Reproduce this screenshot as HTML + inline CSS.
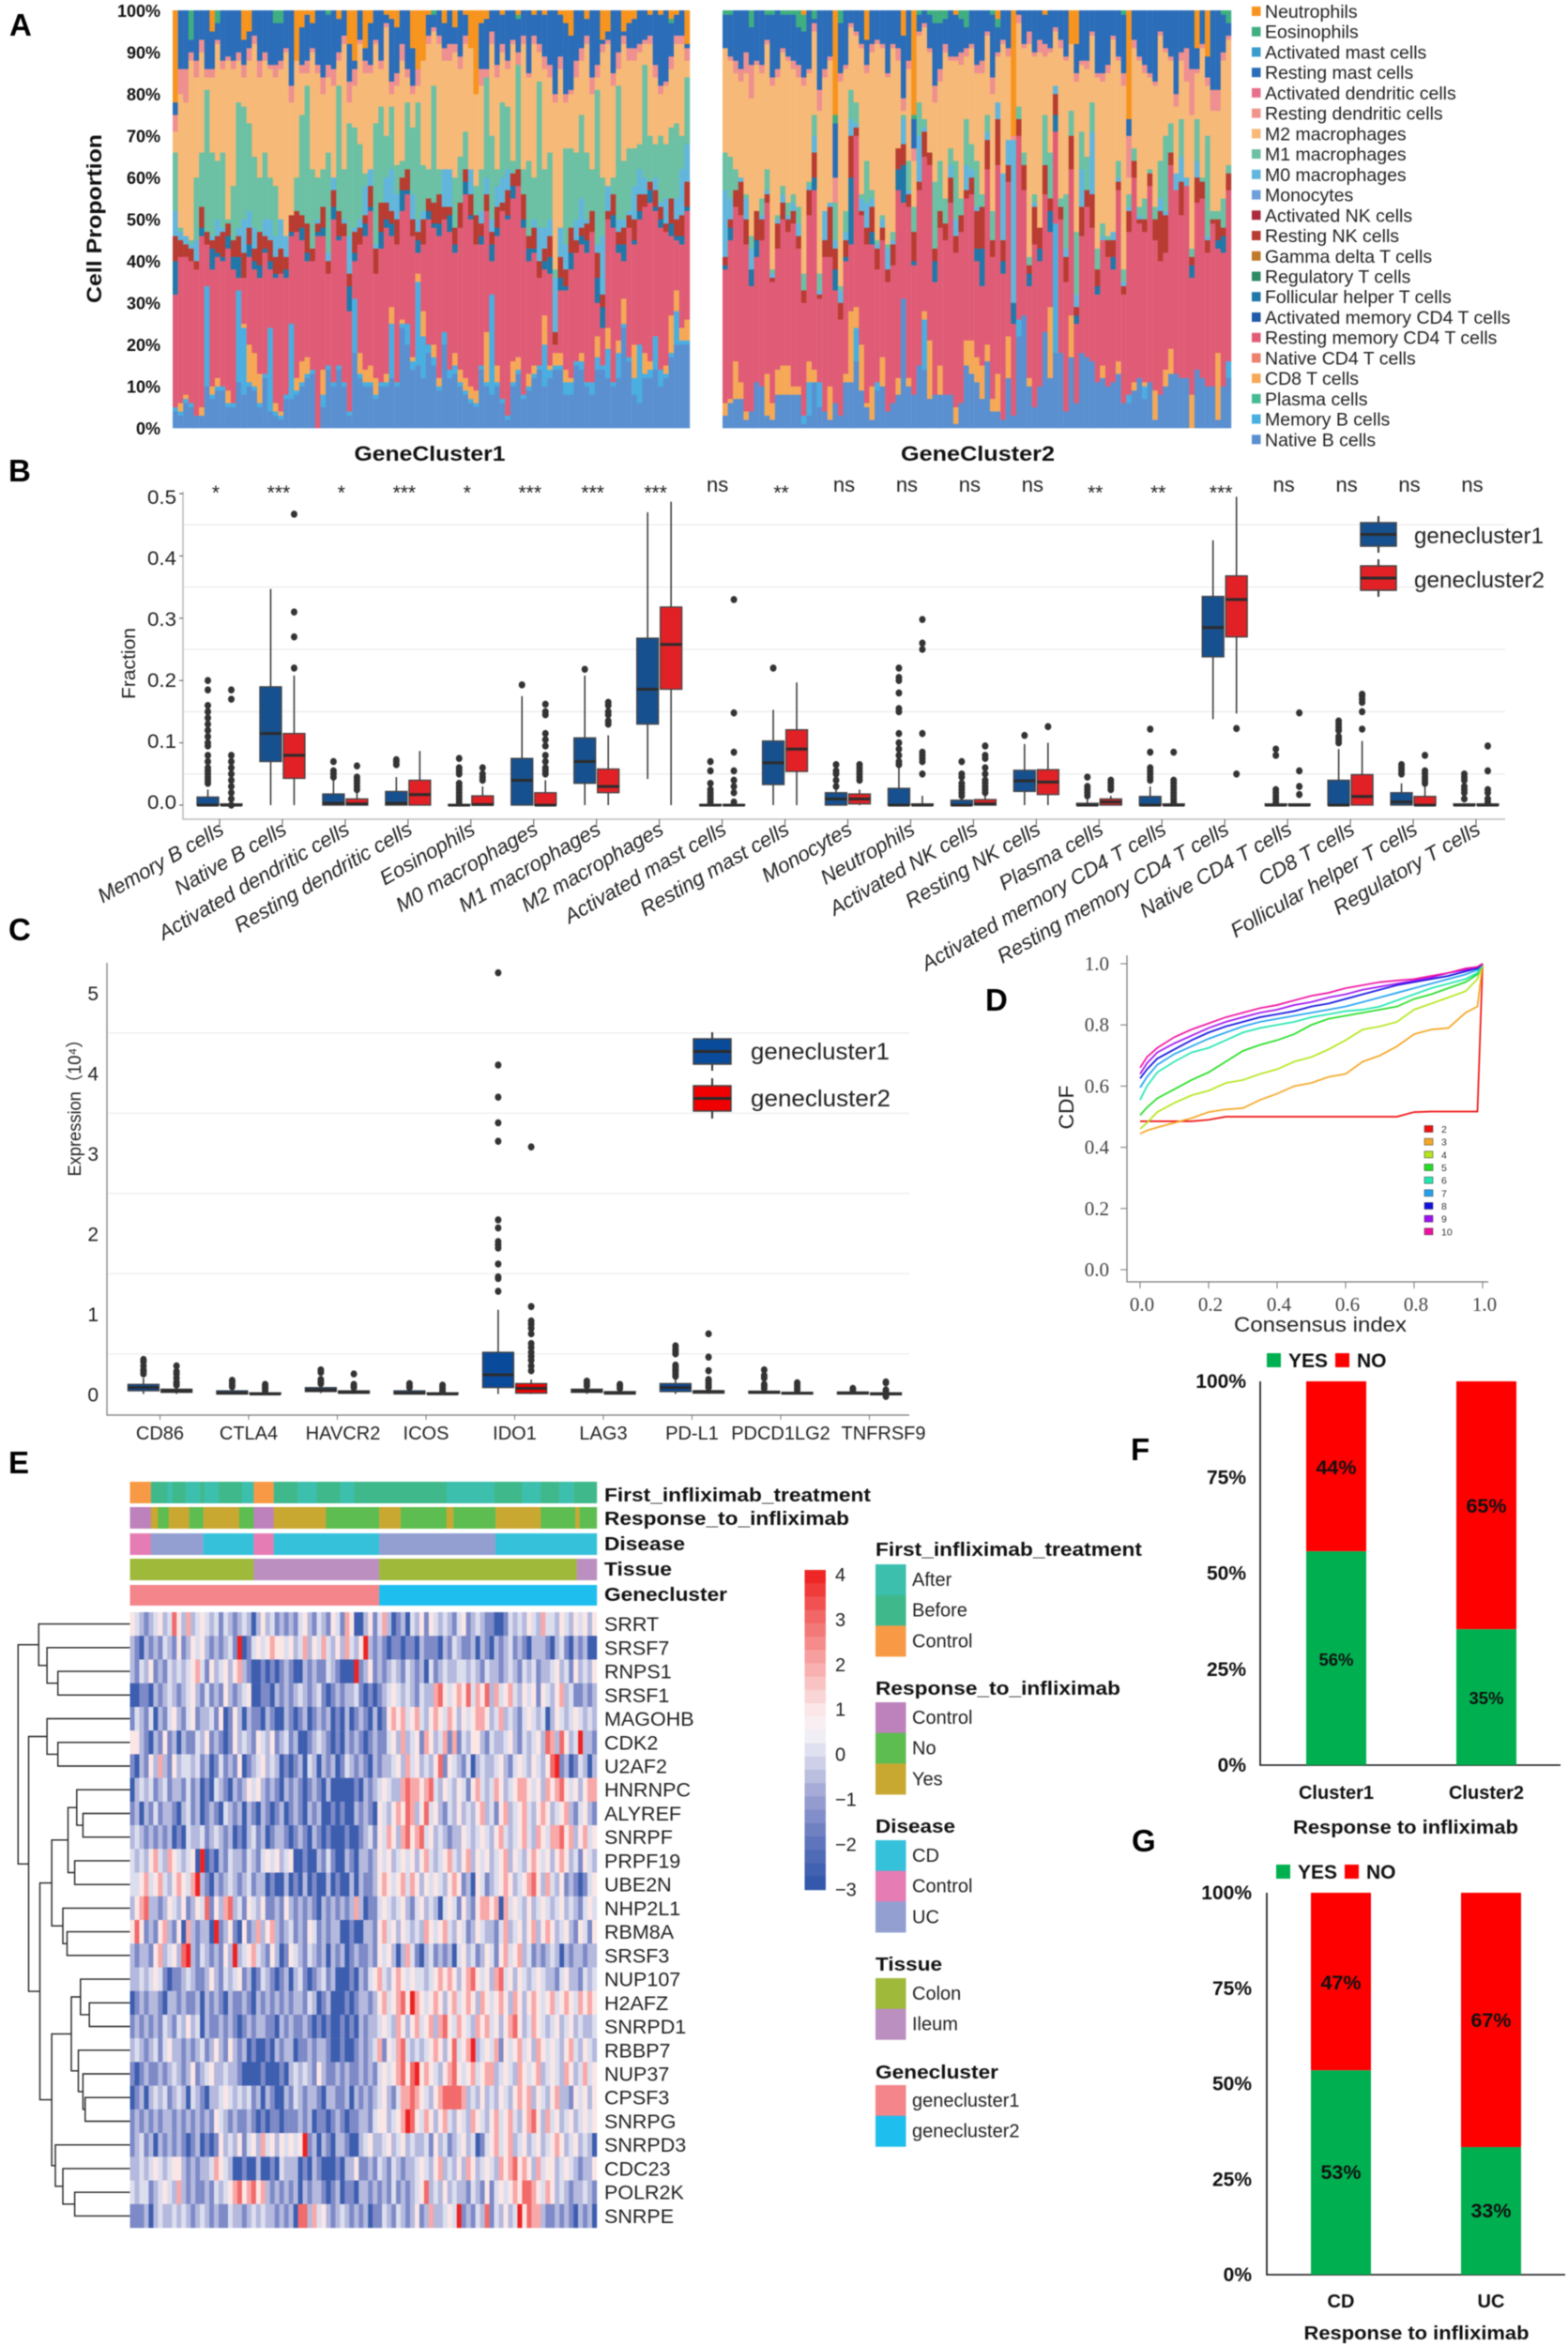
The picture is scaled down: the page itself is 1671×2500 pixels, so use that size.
<!DOCTYPE html>
<html lang="en">
<head>
<meta charset="utf-8">
<title>Immune infiltration and gene cluster figure</title>
<style>
html,body{margin:0;padding:0;background:#fff;width:1671px;height:2500px;overflow:hidden}
svg{display:block;font-family:"Liberation Sans","Noto Sans CJK SC",sans-serif;filter:blur(.45px)}
</style>
</head>
<body>
<svg id="figure" xmlns="http://www.w3.org/2000/svg" width="1671" height="2500" viewBox="0 0 1671 2500">
  <rect x="0" y="0" width="1671" height="2500" fill="#fff"/>
  <g id="panelA"></g>
  <g id="panelB"></g>
  <g id="panelC"></g>
  <g id="panelD"></g>
  <g id="panelE"></g>
  <g id="panelF"></g>
  <g id="panelG"></g>
  <g font-weight="bold" font-size="33" fill="#000">
    <text x="10" y="38">A</text>
    <text x="9" y="513">B</text>
    <text x="9" y="1002">C</text>
    <text x="1050" y="1077">D</text>
    <text x="9" y="1570">E</text>
    <text x="1205" y="1556">F</text>
    <text x="1206" y="1973">G</text>
  </g>
</svg>
<script>
/* ---------- Panel A data (percent) ---------- */
const aTicks = [0,10,20,30,40,50,60,70,80,90,100];
const aLegendNames = ["Neutrophils","Eosinophils","Activated mast cells","Resting mast cells","Activated dendritic cells","Resting dendritic cells","M2 macrophages","M1 macrophages","M0 macrophages","Monocytes","Activated NK cells","Resting NK cells","Gamma delta T cells","Regulatory T cells","Follicular helper T cells","Activated memory CD4 T cells","Resting memory CD4 T cells","Native CD4 T cells","CD8 T cells","Plasma cells","Memory B cells","Native B cells"];
const aLegendColors = ["#f7941e","#3fae80","#3a9ccb","#2b6db8","#e6708c","#f0958c","#f6b977","#6cc0a3","#62b6dc","#6f9fd8","#ab2a3e","#b83c32","#c07a2a","#2e8b63","#2178a8","#2258a8","#e05c76","#ee8070","#f5a957","#46bb91","#4aaee0","#5a90d0"];

const c1NativeB = [4,3,6,5,3,3,10,7,9,9,
5,5,11,8,10,9,5,12,4,3,
2,7,7,8,10,12,13,0,5,14,
10,14,10,3,18,12,10,10,7,10,
10,12,10,24,20,14,15,12,18,15,
9,20,12,13,10,8,6,5,14,10,
8,10,6,2,10,13,7,9,12,14,
10,12,14,14,8,8,15,14,10,8,
14,14,12,10,12,24,16,8,6,12,
12,14,10,12,17,20,20,20];
const c1MemoryB = [1,1,1,1,0,0,24,1,1,1,
1,1,22,16,1,1,1,1,20,1,
1,1,18,1,1,1,1,0,3,1,
1,1,1,1,13,1,1,1,1,1,
1,13,1,1,5,2,20,10,2,2,
1,3,2,2,1,1,1,1,1,1,
24,1,1,1,1,1,1,1,1,1,
10,2,1,1,3,3,1,2,1,3,
3,1,7,1,6,1,1,4,14,1,
2,8,4,1,1,8,1,1];
const c1Cd8 = [0,2,1,0,0,2,0,2,2,0,
3,0,0,1,9,8,7,0,0,2,
1,0,0,3,5,4,0,0,6,0,
0,0,0,0,0,5,3,4,4,0,
2,4,0,1,0,1,2,6,0,3,
2,0,0,3,3,3,3,3,0,12,
0,4,0,0,5,3,0,3,2,0,
7,1,3,3,3,1,0,2,0,0,
5,0,5,0,3,6,0,8,0,5,
2,0,0,2,9,5,3,5];
const c1RestCd4Top = [32,41,41,40,38,46,44,38,41,40,
43,38,36,36,41,38,36,42,38,36,
37,36,46,47,45,40,40,46,46,37,
50,45,46,28,40,44,46,52,37,43,
48,46,44,52,56,46,42,44,50,48,
46,50,47,42,48,56,50,44,44,52,
40,46,52,50,55,58,48,40,42,36,
38,37,20,33,33,38,42,44,42,47,
30,24,50,48,42,40,48,44,50,53,
54,52,48,47,46,45,44,52];
const c1TCells = [8,0,0,0,0,2,0,5,1,1,
3,3,5,0,3,2,3,1,2,1,
0,2,1,0,3,2,0,1,2,0,
3,1,0,6,2,0,3,1,0,4,
2,3,0,5,1,0,3,0,2,1,
3,0,4,2,0,3,1,0,2,0,
4,2,0,1,3,0,2,3,1,0,
2,4,0,3,1,4,0,2,3,0,
6,5,0,3,2,4,0,1,2,0,
3,1,2,0,3,1,2,1];
const c1RestNK = [6,4,3,3,2,5,3,2,4,6,
3,4,5,6,4,3,8,3,5,4,
6,3,4,5,3,7,3,2,5,3,
4,6,3,3,5,4,2,5,6,7,
4,3,6,3,5,4,2,6,3,5,
7,3,2,4,6,3,5,7,3,4,
3,5,2,6,3,4,6,3,5,4,
3,5,3,5,4,6,3,2,4,5,
6,3,2,5,3,4,3,5,4,3,
2,4,3,2,6,4,5,6];
const c1M0Top = [52,47,46,44,45,50,46,46,50,48,
45,44,48,50,52,48,42,50,50,46,
50,46,50,50,48,44,42,50,50,42,
60,48,50,46,48,50,58,62,44,48,
60,62,56,54,62,56,50,52,54,52,
52,62,62,48,52,62,62,48,52,60,
50,58,60,62,60,62,56,46,50,48,
48,50,36,48,44,46,50,55,50,50,
44,46,58,54,50,50,52,58,62,60,
58,60,54,55,50,55,62,68];
const c1M1Top = [66,48,46,45,60,66,81,66,64,66,
50,58,78,77,73,65,60,66,60,58,
48,44,46,60,75,82,62,60,62,66,
50,82,62,73,72,68,61,48,73,77,
70,77,63,64,78,72,78,63,62,82,
62,58,59,60,65,71,62,58,62,84,
70,62,78,77,64,87,62,64,60,83,
62,66,38,36,67,67,66,75,66,62,
81,60,58,60,82,64,67,67,68,87,
70,68,70,68,72,73,70,84];
const c1M2Top = [71,80,78,88,84,90,84,84,92,86,
88,86,88,84,88,92,84,88,86,84,
86,90,78,88,85,85,90,85,80,84,
82,88,92,78,82,92,85,85,92,86,
96,80,82,88,84,80,82,90,92,95,
92,88,88,90,86,92,96,84,82,84,
92,84,90,86,92,86,92,84,92,90,
86,84,78,86,78,80,84,88,92,80,
84,90,92,82,86,92,88,88,90,92,
92,84,80,82,86,92,92,88];
const c1Dendritic = [4,6,8,2,4,3,2,2,1,2,
1,2,2,3,3,2,4,2,1,3,
2,1,4,2,2,3,1,2,4,3,
4,2,2,5,4,1,3,2,1,2,
1,3,3,4,2,2,5,3,2,1,
2,3,4,2,3,2,1,3,4,2,
3,3,2,2,1,3,2,1,2,2,
3,3,2,3,2,1,4,3,2,4,
3,2,1,3,4,2,3,3,2,1,
2,3,2,1,3,2,2,3];
const c1Eosinophils = [0,0,0,7,0,0,0,0,3,0,
0,0,0,0,0,0,0,0,0,3,
3,0,0,0,0,0,0,0,0,1,
0,0,0,0,0,0,0,0,0,0,
0,0,0,0,0,0,0,0,0,1,
0,0,0,0,0,0,0,0,0,0,
0,0,0,0,0,1,0,0,0,0,
0,0,0,0,0,0,0,0,0,0,
0,0,0,0,0,0,0,0,0,0,
0,0,0,0,1,0,0,0];
const c1Neutrophils = [22,0,0,0,0,0,0,5,0,0,
0,0,0,7,5,0,0,0,0,0,
0,0,0,12,4,1,3,0,0,0,
0,2,0,8,12,0,9,3,0,0,
1,2,4,0,0,9,14,12,1,0,
0,3,0,4,0,1,9,20,3,2,
0,0,1,0,0,1,0,0,1,0,
1,0,0,1,3,6,0,0,2,0,
0,7,5,0,0,5,3,2,0,0,
1,0,1,0,2,1,0,8];

const c2NativeB = [3,6,7,7,2,4,11,10,3,2,
8,8,8,8,8,1,3,11,5,4,
2,6,3,11,11,16,9,5,2,9,
10,4,6,8,31,10,8,15,14,7,
8,8,8,8,1,6,15,13,11,7,
16,4,4,2,12,3,22,27,10,5,
10,23,12,18,18,4,17,6,18,17,
16,11,12,10,11,13,6,6,9,12,
7,11,2,8,10,13,13,12,12,0,
14,12,10,10,2,10,12];
const c2MemoryB = [0,0,0,0,0,0,0,0,0,0,
0,0,0,0,0,2,8,0,6,0,
0,0,0,0,0,8,0,0,0,2,
0,0,0,0,0,0,0,0,12,0,
0,0,0,0,0,0,0,0,0,0,
0,0,0,0,0,0,4,0,0,0,
0,0,0,31,0,0,0,0,0,0,
0,0,0,0,0,0,0,2,0,0,
3,0,0,0,0,0,0,0,0,0,
0,0,0,0,0,0,4];
const c2Cd8 = [3,1,9,4,2,0,0,0,10,4,
6,7,7,2,2,0,5,3,0,0,
8,0,0,2,17,5,11,1,8,0,
7,0,0,4,0,2,0,0,2,14,
0,7,0,0,4,0,6,8,6,8,
4,3,9,0,10,0,0,0,2,0,
0,0,17,0,0,0,10,0,0,0,
0,0,3,0,0,3,0,0,2,0,
1,0,7,0,4,6,0,0,0,8,
0,0,0,0,16,0,0];
const c2RestCd4Top = [38,45,53,51,44,34,41,45,54,35,
43,50,47,49,43,30,51,57,31,41,
41,33,26,40,44,70,51,44,44,38,
45,35,39,57,54,53,39,57,65,63,
35,48,45,54,42,47,55,56,40,34,
62,41,63,37,59,25,70,57,34,44,
40,56,47,71,50,35,62,25,46,53,
48,32,45,41,38,57,32,47,60,49,
47,58,45,40,42,63,57,51,58,36,
54,55,42,49,43,42,57];
const c2TCells = [1,3,0,0,0,4,4,0,0,0,
0,0,0,0,0,0,0,3,0,0,
0,5,0,1,16,0,0,0,3,0,
0,0,0,5,9,0,1,0,0,0,
5,0,0,0,0,0,0,0,3,9,
0,0,0,3,0,5,0,0,3,0,
3,0,5,4,0,0,0,2,0,0,
0,2,0,0,3,0,0,0,0,0,
0,0,0,0,0,0,0,0,0,3,
0,0,0,0,2,4,0];
const c2RestNK = [2,2,4,8,6,0,7,5,2,1,
6,4,3,3,3,3,6,6,1,4,
12,5,4,4,10,2,1,4,6,5,
3,3,5,5,5,3,7,2,6,3,
3,4,4,6,4,4,2,4,9,10,
7,4,11,5,4,0,4,6,2,9,
5,7,3,5,3,6,8,2,7,4,
8,4,0,4,4,2,2,5,4,1,
3,3,5,12,9,3,0,8,0,2,
6,4,3,1,5,2,4];
const c2M0Top = [57,55,57,60,55,43,48,51,57,37,
50,56,51,54,49,33,58,70,33,52,
54,45,33,47,74,73,55,54,55,44,
50,43,45,67,74,57,47,70,72,66,
43,52,49,63,50,51,63,62,53,53,
71,44,78,61,69,69,74,63,39,54,
48,63,55,82,52,43,70,32,62,57,
71,36,46,45,47,60,35,53,62,51,
49,58,50,55,52,66,61,65,60,41,
64,59,46,50,50,48,61];
const c2M1Top = [66,65,62,60,56,46,52,55,62,38,
51,58,54,56,53,37,59,75,37,52,
54,54,34,52,81,78,56,64,57,45,
51,44,47,67,75,64,53,78,74,66,
59,64,55,67,64,55,74,68,64,56,
75,52,78,61,69,69,77,66,41,56,
48,75,66,82,55,56,76,47,71,65,
78,43,49,46,47,64,38,56,67,53,
55,62,53,64,70,73,61,74,60,43,
74,60,70,52,52,55,63];
const c2M2Top = [91,88,85,83,85,79,87,85,92,82,
84,90,88,86,84,82,85,95,76,84,
88,54,83,86,96,94,91,85,90,92,
91,84,91,88,76,86,64,94,96,90,
78,83,90,88,88,87,89,91,85,85,
94,80,89,92,89,69,97,91,92,89,
90,89,90,95,91,88,95,83,87,86,
94,84,83,85,93,88,82,60,91,88,
85,84,82,94,90,88,77,88,83,75,
85,91,82,76,76,88,93];
const c2Dendritic = [0,1,3,3,5,8,1,2,1,2,
2,1,1,2,3,2,1,2,5,2,
1,6,2,1,1,1,1,2,2,1,
1,1,1,3,3,2,3,1,1,1,
4,3,2,1,1,3,2,1,2,3,
1,4,1,1,2,1,2,1,3,1,
3,3,1,1,2,1,1,2,1,2,
1,1,2,2,1,1,3,10,2,1,
2,1,1,1,1,1,3,2,8,11,
1,1,2,5,5,2,1];
const c2Eosinophils = [1,1,0,0,0,4,0,0,1,1,
0,1,1,1,4,4,0,2,0,0,
0,2,3,0,0,0,0,0,0,0,
0,0,0,0,0,0,1,1,0,1,
3,3,2,0,0,2,4,0,0,0,
0,1,2,0,0,0,0,0,0,0,
0,0,0,0,0,0,0,0,0,0,
0,0,0,0,0,0,1,0,0,0,
0,0,0,0,0,0,0,0,0,0,
0,0,0,0,0,1,3];
const c2Neutrophils = [0,0,0,0,0,0,0,0,0,0,
0,0,0,0,0,1,0,0,0,0,
0,25,0,0,0,0,0,7,0,0,
0,0,0,0,6,0,25,0,0,0,
0,0,0,0,1,0,0,0,0,0,
0,0,2,0,0,30,0,0,0,0,
0,1,0,0,0,0,8,8,0,0,
0,0,0,0,0,0,0,26,0,0,
0,0,0,0,0,0,0,0,0,0,
9,0,11,0,0,0,0];

/* ---------- Panel B data (fraction) [low whisker, q1, median, q3, high whisker] ---------- */
const bCategories = ["Memory B cells","Native B cells","Activated dendritic cells","Resting dendritic cells","Eosinophils","M0 macrophages","M1 macrophages","M2 macrophages","Activated mast cells","Resting mast cells","Monocytes","Neutrophils","Activated NK cells","Resting NK cells","Plasma cells","Activated memory CD4 T cells","Resting memory CD4 T cells","Native CD4 T cells","CD8 T cells","Follicular helper T cells","Regulatory T cells"];
const bTicks = [0,0.1,0.2,0.3,0.4,0.5];
const bGrid = [0.05,0.15,0.25,0.35,0.45];
const bSignificance = ["*","***","*","***","*","***","***","***","ns","**","ns","ns","ns","ns","**","**","***","ns","ns","ns","ns"];
const bCluster1Stats = [[0,0,0,0.013,0.025],[0,0.07,0.115,0.19,0.347],[0,0,0.003,0.018,0.04],[0,0,0.003,0.022,0.045],[0,0,0,0.001,0.002],[0,0,0.04,0.075,0.175],[0,0.035,0.07,0.108,0.208],[0.042,0.13,0.186,0.268,0.47],[0,0,0,0.001,0.002],[0,0.033,0.068,0.103,0.153],[0,0,0.01,0.02,0.025],[0,0,0,0.027,0.06],[0,0,0,0.008,0.01],[0,0.022,0.039,0.056,0.098],[0,0,0,0.003,0.01],[0,0,0,0.014,0.03],[0.138,0.238,0.285,0.335,0.425],[0,0,0,0.002,0.003],[0,0,0,0.04,0.09],[0,0,0.005,0.02,0.035],[0,0,0,0.002,0.003]];
const bCluster2Stats = [[0,0,0,0.002,0.003],[0,0.043,0.08,0.115,0.208],[0,0,0.002,0.01,0.02],[0,0,0.017,0.04,0.087],[0,0,0.001,0.015,0.03],[0,0,0,0.02,0.04],[0,0.02,0.03,0.058,0.112],[0,0.186,0.258,0.318,0.487],[0,0,0,0.001,0.002],[0,0.054,0.09,0.121,0.197],[0,0.002,0.01,0.018,0.025],[0,0,0,0.002,0.015],[0,0,0.002,0.009,0.015],[0,0.017,0.037,0.057,0.1],[0,0,0.005,0.01,0.015],[0,0,0,0.002,0.003],[0.147,0.27,0.33,0.368,0.495],[0,0,0,0.002,0.003],[0,0,0.014,0.049,0.103],[0,0,0,0.014,0.03],[0,0,0,0.002,0.003]];
const bCluster1Outliers = [[0.035,0.04,0.045,0.05,0.055,0.06,0.07,0.08,0.095,0.1,0.11,0.12,0.13,0.14,0.15,0.16,0.185,0.2],[],[0.045,0.05,0.055,0.07],[0.065,0.07,0.073],[0.005,0.01,0.015,0.02,0.025,0.03,0.035,0.05,0.055,0.06,0.075],[0.193],[0.218],[],[0.005,0.01,0.015,0.02,0.025,0.035,0.055,0.07],[0.22],[0.03,0.04,0.05,0.055,0.065],[0.065,0.07,0.08,0.09,0.1,0.115,0.15,0.155,0.18,0.2,0.205,0.22],[0.015,0.02,0.025,0.03,0.035,0.045,0.05,0.07],[0.112],[0.015,0.02,0.025,0.03,0.045],[0.04,0.045,0.05,0.055,0.06,0.085,0.122],[],[0.005,0.01,0.015,0.02,0.025,0.08,0.09],[0.1,0.105,0.11,0.12,0.125,0.13,0.135],[0.05,0.055,0.06,0.065],[0.01,0.02,0.025,0.03,0.04,0.045,0.05]];
const bCluster2Outliers = [[0,0.01,0.02,0.03,0.04,0.05,0.06,0.07,0.08,0.17,0.185],[0.22,0.27,0.31,0.467],[0.025,0.03,0.035,0.04,0.045,0.063],[],[0.04,0.045,0.05,0.06],[0.05,0.055,0.06,0.07,0.08,0.095,0.105,0.115,0.145,0.15,0.162],[0.13,0.135,0.145,0.15,0.16,0.165],[],[0.005,0.02,0.03,0.04,0.055,0.085,0.148,0.33],[],[0.04,0.045,0.05,0.055,0.06,0.065],[0.05,0.07,0.075,0.08,0.085,0.115,0.25,0.26,0.298],[0.02,0.025,0.03,0.035,0.04,0.05,0.06,0.075,0.08,0.095],[0.126],[0.025,0.03,0.035,0.04],[0.005,0.01,0.015,0.02,0.025,0.03,0.035,0.04,0.085],[0.05,0.123],[0.017,0.03,0.055,0.148],[0.122,0.15,0.165,0.17,0.175,0.178],[0.035,0.04,0.045,0.05,0.055,0.08],[0.005,0.01,0.02,0.025,0.055,0.095]];

/* ---------- Panel C data ---------- */
const cCategories = ["CD86","CTLA4","HAVCR2","ICOS","IDO1","LAG3","PD-L1","PDCD1LG2","TNFRSF9"];
const cTicks = [0,1,2,3,4,5];
const cGrid = [0.5,1.5,2.5,3.5,4.5];
const cCluster1Stats = [[0,0.04,0.08,0.12,0.2],[0,0,0.01,0.04,0.07],[0.01,0.03,0.05,0.08,0.11],[0,0,0.01,0.04,0.06],[0,0.08,0.24,0.52,1.05],[0,0.02,0.04,0.06,0.08],[0,0.03,0.08,0.13,0.2],[0,0.01,0.02,0.035,0.05],[0,0,0.01,0.025,0.03]];
const cCluster2Stats = [[0,0.02,0.04,0.06,0.09],[0,0,0,0.015,0.03],[0,0.01,0.02,0.04,0.06],[0,0,0,0.015,0.02],[0,0.01,0.07,0.13,0.18],[0,0,0.01,0.03,0.05],[0,0.01,0.03,0.04,0.06],[0,0,0.01,0.02,0.03],[-0.01,-0.01,0,0.015,0.02]];
const cCluster1Outliers = [[0.25,0.28,0.3,0.35,0.4,0.43],[0.09,0.12,0.15,0.17],[0.13,0.15,0.18,0.27,0.3],[0.08,0.1,0.13],[1.28,1.44,1.46,1.62,1.82,1.86,1.9,2.07,2.17,3.15,3.38,3.7,4.1,5.25],[0.1,0.13,0.16],[0.22,0.25,0.28,0.3,0.33,0.36,0.5,0.53,0.56,0.6],[0.07,0.1,0.12,0.2,0.23,0.3],[0.05,0.07]];
const cCluster2Outliers = [[0.11,0.13,0.15,0.2,0.25,0.28,0.35],[0.04,0.06,0.08,0.1,0.12],[0.08,0.1,0.12,0.25],[0.03,0.05,0.08,0.11],[0.29,0.35,0.42,0.47,0.52,0.58,0.63,0.75,0.82,0.87,0.91,1.09,3.08],[0.07,0.1,0.12],[0.08,0.1,0.13,0.16,0.18,0.29,0.46,0.75],[0.05,0.08,0.11,0.14],[0.04,0.05,0.14,0.15,-0.03]];

/* ---------- Panel D data ---------- */
const dConsensusIndex = [0,0.02,0.05,0.1,0.15,0.2,0.25,0.3,0.35,0.4,0.45,0.5,0.55,0.6,0.65,0.7,0.75,0.8,0.85,0.9,0.95,0.985,1];
const dK2 = [0.485,0.485,0.485,0.485,0.485,0.49,0.5,0.5,0.5,0.5,0.5,0.5,0.5,0.5,0.5,0.5,0.5,0.515,0.517,0.517,0.517,0.517,1];
const dK3 = [0.444,0.455,0.465,0.48,0.495,0.515,0.524,0.528,0.555,0.575,0.6,0.61,0.63,0.64,0.68,0.7,0.73,0.77,0.785,0.79,0.84,0.86,1];
const dK4 = [0.46,0.48,0.515,0.545,0.57,0.585,0.61,0.62,0.64,0.655,0.68,0.695,0.72,0.75,0.785,0.795,0.81,0.85,0.87,0.89,0.91,0.95,1];
const dK5 = [0.505,0.53,0.56,0.59,0.62,0.645,0.68,0.715,0.735,0.75,0.77,0.8,0.82,0.83,0.84,0.85,0.86,0.885,0.9,0.92,0.94,0.965,1];
const dK6 = [0.555,0.6,0.645,0.68,0.71,0.725,0.75,0.775,0.79,0.8,0.81,0.825,0.835,0.845,0.85,0.86,0.88,0.9,0.92,0.935,0.95,0.97,1];
const dK7 = [0.595,0.63,0.67,0.705,0.73,0.755,0.775,0.795,0.81,0.82,0.83,0.84,0.85,0.86,0.875,0.89,0.905,0.92,0.935,0.95,0.965,0.98,1];
const dK8 = [0.625,0.655,0.69,0.72,0.75,0.775,0.795,0.81,0.825,0.835,0.845,0.86,0.87,0.885,0.9,0.915,0.93,0.94,0.95,0.96,0.975,0.985,1];
const dK9 = [0.64,0.675,0.71,0.74,0.765,0.79,0.81,0.825,0.84,0.85,0.865,0.875,0.89,0.9,0.915,0.925,0.935,0.945,0.955,0.97,0.98,0.99,1];
const dK10 = [0.66,0.695,0.725,0.76,0.785,0.805,0.825,0.84,0.855,0.865,0.88,0.895,0.905,0.92,0.93,0.94,0.945,0.95,0.96,0.97,0.985,0.99,1];
const dTicks = [0,0.2,0.4,0.6,0.8,1];
const dLabels = ["2","3","4","5","6","7","8","9","10"];

/* ---------- Panel E data ---------- */
const eGenes = ["SRRT","SRSF7","RNPS1","SRSF1","MAGOHB","CDK2","U2AF2","HNRNPC","ALYREF","SNRPF","PRPF19","UBE2N","NHP2L1","RBM8A","SRSF3","NUP107","H2AFZ","SNRPD1","RBBP7","NUP37","CPSF3","SNRPG","SNRPD3","CDC23","POLR2K","SNRPE"];
const eZ0 = [1,0,-1,-2,-1,0,1,-1,0,3, 1,-1,2,-1,0,1,0,-1,0,-2, 0,-1,-2,-1,0,-1,-3,-1,1,-1, 0,-2,-1,-2,-1,-2,0,1,-1,-2, 0,-1,-2,1,0,-2,2,1,-3,-3, -1,1,-2,0,2,-1,-3,-2,-1,-3, 0,-1,1,-2,1,0,-1,0,-1,-2, 0,1,-2,-1,0,-1,-2,-2,-3,-3, -2,0,-1,0,-1,1,0,-1,2,0, 0,-1,1,0,-1,1,0,1,-1,1];
const eZ1 = [-1,-2,-3,-1,-2,-1,-2,0,-1,-2, 1,-2,-1,1,0,1,-1,-2,-1,-2, -1,0,-2,4,-3,-2,0,1,0,1, 2,1,1,0,1,-1,0,2,-1,1, 0,2,0,-1,1,-1,2,0,-1,1, 4,-1,-2,-1,-2,-3,-2,-2,-3,-2, -2,-3,-1,-2,-2,-2,-3,-1,-2,0, -1,-2,-2,-1,-3,-1,-2,-3,-1,-2, -1,0,-2,-1,-2,-3,-1,-1,-1,-2, -3,-1,0,-2,-3,-1,-2,-1,-3,-3];
const eZ2 = [-1,-2,0,-1,1,-2,-1,-2,0,-1, 0,-1,0,1,2,0,-2,1,-1,0, 1,-1,1,2,-1,-2,-3,-3,-2,-3, -2,-3,-2,-1,-2,-3,-3,-1,-2,-1, -2,-2,0,-1,-2,-3,-3,-3,4,-2, -1,1,-2,-1,-2,-1,0,-1,-2,0, -1,-2,-1,-3,0,-2,-1,0,-1,-1, 0,0,-1,0,-1,-2,0,-1,-1,-2, -1,0,-1,-2,0,-1,0,-2,-1,-1, 0,1,-1,0,-2,1,-1,0,-1,1];
const eZ3 = [-3,-3,-2,-2,-3,-1,-2,-1,0,-1, -2,-1,0,1,-1,-2,0,-2,-1,-2, 1,-1,-2,-1,0,1,-3,-3,-2,-2, -3,-1,-2,-1,-2,-1,0,-1,-2,-1, 0,-2,-3,-2,-1,-2,-1,-1,0,-2, -3,-2,-3,-2,-1,0,1,0,-1,0, -1,-2,0,-1,-1,2,3,1,0,1, 2,1,3,0,2,1,3,-1,2,0, 1,2,0,-1,1,0,1,-2,1,0, -1,1,2,-1,0,-2,-2,-1,-2,-1];
const eZ4 = [-2,0,-1,-2,0,-3,-1,-2,0,1, -1,-2,0,1,-2,-1,-1,0,-2,1, -3,-2,1,-1,-3,-1,-2,-2,-3,-1, -2,-3,-3,-1,-2,-3,-2,-1,-3,-2, -1,-2,-1,-3,-2,-3,-1,-3,-2,-1, -2,-3,-1,-3,-2,1,2,1,2,0, 1,2,0,-1,1,2,1,0,2,1, -1,1,0,1,2,2,1,-1,0,2, -1,0,-1,-2,0,1,0,-1,0,-3, -1,1,0,-1,0,1,0,-1,0,-1];
const eZ5 = [1,1,-1,-2,-3,-1,-2,1,-2,-1, -3,-1,-2,-2,0,-1,1,-2,-1,-2, -3,-2,1,-1,0,-1,-2,1,0,-1, 1,-2,-1,0,-2,-1,-3,-3,-2,-1, 0,-1,-2,-3,-2,-3,-1,-2,-1,-2, -3,-2,-1,-2,-2,0,1,-1,2,-1, 0,1,-2,2,1,-1,0,2,-2,2, -2,0,-1,1,1,-1,-2,0,-1,-1, 0,1,-1,-2,0,-1,0,1,-1,3, 2,-1,3,1,-1,0,4,-1,-1,-2];
const eZ6 = [-2,-3,-1,-2,1,-1,2,-1,-2,1, -1,0,0,-1,0,-2,-1,-3,-2,0, -2,-1,-2,1,-3,-2,-1,0,1,-1, 0,-1,-3,-2,-3,-2,-1,-3,0,-1, -3,-1,-2,-1,-3,-2,0,-1,-2,-1, -2,-3,-1,-2,-1,-1,0,1,-1,2, 0,1,-1,0,-1,1,3,-2,1,0, -1,-2,0,-3,-1,0,-1,-1,0,1, -1,-2,0,1,0,-1,1,0,-1,1, 3,4,-2,-1,-3,-2,0,-1,-3,-1];
const eZ7 = [-3,-1,0,-1,0,-2,-1,0,-2,-1, -1,-2,0,-2,-1,-3,-2,-3,0,-1, -2,-3,-1,-2,-1,1,0,1,-1,-2, -1,-2,-3,-1,-2,-1,-2,-3,-2,-1, -2,-3,-1,-3,-3,-3,-3,-3,-2,-3, -1,-2,-1,0,1,0,-1,-1,2,3, 2,2,1,2,3,0,-1,1,0,-1, 1,0,-2,1,2,0,-1,0,2,1, -1,0,1,2,2,1,0,1,-1,2, 1,2,3,1,0,1,-1,1,2,2];
const eZ8 = [-2,-1,-3,-1,-2,0,-2,-1,-1,-2, -3,-1,0,-2,-1,-3,-2,-1,-2,-3, 0,-1,-2,-1,-3,-1,-2,-3,-1,-2, -3,-2,-1,-3,-2,-1,-2,-3,-1,-2, -1,-3,-3,-2,-3,-2,-3,-3,-1,-2, -1,-2,-3,1,0,-1,1,2,1,3, 2,-1,1,3,0,1,-1,-2,0,-1, 1,-1,0,-1,1,2,-1,0,-2,1, 2,-1,0,1,2,0,-1,1,2,1, -1,0,1,2,-1,-2,0,1,-1,-2];
const eZ9 = [-1,0,-1,-2,-1,-2,-1,-2,-1,-3, -2,-3,0,-1,-1,0,-2,-1,0,-1, -2,-1,-3,-2,-3,-1,0,-2,-1,-3, -2,-1,-1,-2,-3,-2,-1,-2,-3,-1, -2,-3,-2,-3,-3,-3,-2,-3,-3,-2, -1,0,-2,1,0,2,1,-1,2,3, 1,2,3,0,1,-1,0,-1,-2,-1, -1,1,0,-1,0,1,0,-1,1,2, 0,-1,0,1,2,0,-1,2,1,0, 2,2,3,1,2,-1,1,2,0,1];
const eZ10 = [0,-1,0,-1,1,2,0,-1,2,1, 0,-1,0,1,-3,4,-3,-2,-3,-1, -2,0,-1,-1,-2,0,-1,-2,0,1, 0,1,-1,0,1,-3,-3,-2,-3,-3, -1,-2,0,-2,-3,-3,-1,-2,-3,-1, -1,-2,-1,1,0,1,-1,0,1,0, 1,-1,1,2,0,-1,0,1,2,0, -1,1,2,-1,1,0,1,-1,0,1, 2,-1,1,0,-1,1,2,1,0,1, -1,1,2,1,-1,0,-2,1,0,-1];
const eZ11 = [0,0,1,2,0,1,2,0,-1,1, 2,1,0,2,4,-1,-2,-3,-1,-2, -1,0,-1,-2,-1,0,-2,-1,-1,-3, -2,-3,-3,-1,-3,-2,-3,-1,-3,-2, -3,-3,-1,-3,-2,-3,-3,-1,-3,-1, -2,-2,-1,1,2,1,0,1,2,0, 2,1,-1,1,0,1,0,-1,1,2, 1,-2,-1,-3,1,0,-2,-1,0,1, 2,1,-1,0,1,2,3,1,-1,2, 0,-1,1,-2,-1,-2,-3,-2,0,1];
const eZ12 = [-1,1,2,3,-1,-1,-2,-1,1,0, -1,1,-2,-1,1,0,3,-2,1,-1, 2,3,-1,0,-2,1,0,-1,1,-2, -2,-1,-2,1,-1,-2,-1,-2,-1,-2, -3,-1,-2,-1,-2,-1,-2,-1,2,-1, -3,-2,-2,0,1,0,-1,0,1,-1, -2,0,1,-1,0,-1,-3,0,1,0, -2,1,-1,-2,1,2,2,1,2,-3, 2,0,1,0,-1,1,-1,0,1,0, -1,0,1,-1,0,-1,-2,0,1,0];
const eZ13 = [1,3,1,-2,-1,-2,1,2,-1,-2, 1,-3,2,-1,-2,-1,-1,-3,4,-2, -1,1,-2,-3,1,-2,-1,2,-1,1, 2,-1,-2,-1,0,-2,-1,-2,1,0, -2,-1,-2,-1,-1,-3,-3,-2,-3,-3, -1,-1,-2,1,2,0,1,-1,1,0, -1,0,-1,2,1,0,1,2,0,-1, 1,0,-2,-1,1,0,-1,-1,-2,0, 2,-1,0,1,-1,1,2,-1,1,2, 1,-1,0,1,-1,-2,1,0,-2,1];
const eZ14 = [-1,-2,-1,-1,-2,1,2,-1,0,1, -1,3,4,-1,-2,0,-1,-2,-1,-2, 1,-1,4,-1,0,1,2,0,-1,-2, 1,-1,-3,-2,1,0,-1,-2,0,-1, -2,-1,-3,-1,-2,-1,-3,-2,-1,-2, -2,-1,-2,1,0,1,-1,-3,-1,2, 0,-2,-3,-1,0,-2,-1,-2,-1,-3, 0,1,-1,0,-2,-1,1,0,-2,1, 2,0,1,2,-1,0,-2,-1,-2,-1, 0,-1,-3,-1,-2,-1,-1,-2,-1,-1];
const eZ15 = [-1,-1,0,-1,0,1,0,-2,-3,-2, -2,-1,0,-1,-2,-2,-1,1,-1,-2, 0,-1,0,1,-2,-1,-3,-2,0,-1, -2,-3,-2,-1,-3,-1,0,-2,-3,-2, -1,0,-2,-1,-3,-3,-3,-2,-3,-1, -2,0,1,2,0,-1,1,2,1,0, 1,0,0,-1,0,1,2,1,2,1, -1,1,2,3,1,0,1,-1,2,3, 0,1,-1,1,0,-1,0,1,0,-1, -1,-2,0,1,-1,-1,-2,0,-1,0];
const eZ16 = [-3,-2,-1,-2,-1,-1,-2,-3,-1,-1, -2,-1,-2,-2,-1,-3,-1,-2,-1,-2, -3,-1,-2,-2,-1,-2,-3,-1,-2,-1, -2,-1,-2,-1,-2,-1,-1,-2,0,-1, -3,-2,-1,-3,-3,-3,-2,-3,-2,-1, -1,-2,-1,1,2,0,1,2,3,1, 4,2,1,0,1,2,1,-1,1,2, 0,1,2,1,-1,2,1,0,1,2, 1,-1,2,1,-1,1,2,1,0,1, 2,0,1,2,1,0,2,1,2,1];
const eZ17 = [-2,-1,-2,-1,-2,-1,-2,0,-1,-2, 0,-1,1,-1,0,-3,-1,-2,-2,-1, -2,-1,-2,-3,-2,-1,-2,-1,-1,-2, -2,-3,-1,-2,-1,-2,-2,-1,-2,-3, -2,-3,-2,-3,-3,-2,-3,-2,-3,-1, -2,-1,-1,0,1,0,-1,2,1,-1, 1,2,0,1,2,-1,2,3,1,0, 2,1,0,-1,2,1,2,0,1,-1, 1,2,3,1,-1,0,2,1,0,-1, 0,1,-1,0,1,-1,0,-1,-1,0];
const eZ18 = [-1,0,-1,-2,-1,0,-2,0,1,-1, -1,-2,-1,-2,-1,0,-2,-1,1,-1, -2,1,-1,-2,-1,-3,-2,-3,-3,-2, -3,-1,-2,-1,-1,-3,-2,-2,-1,-2, -1,-1,-2,-3,-3,-2,-3,-3,-2,-1, -2,-1,0,2,-2,1,0,2,3,0, -1,0,-1,0,1,2,1,-1,1,3, 0,1,2,4,-1,0,1,0,2,-2, 1,0,1,2,0,1,-1,2,1,0, 1,0,-1,1,2,0,-1,1,0,-1];
const eZ19 = [-2,-3,-2,-1,-2,-2,-1,-2,-1,0, -1,-2,-1,1,-2,-1,0,1,-1,-1, 0,-1,-1,-2,-3,-3,-3,-3,-2,-3, -3,-3,-2,-3,-1,0,-1,0,-1,-2, 1,-1,-2,-2,-1,-2,-1,-2,-2,-1, -2,-1,-2,0,1,0,1,2,3,1, 3,4,1,2,1,0,-1,1,2,3, 1,0,1,2,0,1,2,2,-1,0, 1,0,-1,2,1,0,1,2,-1,0, 1,0,-1,2,1,-1,0,2,0,1];
const eZ20 = [-3,-2,-1,-3,-1,0,-1,0,-2,-1, 0,-1,-3,0,-1,-2,-3,-1,-1,0, 1,0,-1,0,-1,0,-2,-1,-3,-1, -2,-3,-3,-1,-2,0,-1,-2,-1,-1, -2,-3,-1,-1,-2,-2,-1,-3,-1,-2, -1,-2,-1,0,1,-1,-2,0,2,2, 3,2,1,0,-1,1,2,3,3,3, 3,2,-1,0,-1,1,-1,0,-1,1, 0,-1,1,2,1,2,-1,1,0,-1, 1,2,-1,-1,-2,1,0,1,-1,1];
const eZ21 = [-2,-1,-2,-1,-2,-1,-2,-1,-1,-2, -1,-2,-1,-2,-1,-2,-1,-2,1,0, -1,-2,-1,-2,-2,-1,-2,-3,-2,-3, -2,-2,-3,-2,-2,-2,-1,-2,-1,-3, -2,-2,-3,-2,-1,-2,-3,-2,-2,-1, -1,-2,0,1,1,-1,0,1,2,4, 3,1,0,2,1,-1,1,2,0,-1, 1,0,-1,2,1,0,-1,1,2,0, 1,2,0,-1,1,2,3,1,-1,2, 0,1,-1,0,1,-1,0,1,0,1];
const eZ22 = [-2,-1,0,-2,-1,-3,-1,-2,-1,-2, -1,-2,-3,-2,-1,-3,-2,-3,-2,1, -1,0,-1,1,-2,0,1,-1,2,0, 1,-1,1,0,1,0,1,4,-2,-1, -3,-1,-2,-3,-1,-1,-2,-3,-3,-1, 0,1,-1,-1,0,1,-1,0,1,-1, 0,-1,-1,0,-2,1,-1,0,-2,-1, 0,1,-1,0,-3,-2,0,1,2,0, 1,2,-1,0,1,-1,0,1,-1,0, 1,2,1,-1,0,1,-1,0,-1,-3];
const eZ23 = [-1,-1,0,-1,0,1,0,-1,0,1, 1,-1,-2,-1,-2,-1,-1,0,2,1, 0,-1,-3,-3,-2,-3,-3,-1,-3,-3, -2,-3,0,-1,-1,-1,-3,-2,-3,-1, -2,-3,-3,-3,-2,-3,-1,-1,1,-2, -2,-1,-2,0,-1,-2,0,-1,-2,-1, -1,0,1,0,-1,1,2,-1,0,-1, 1,-1,2,1,-1,0,1,0,-1,2, 1,2,3,1,2,1,-1,2,0,1, 1,-1,0,1,0,-1,-2,-1,-1,1];
const eZ24 = [0,-1,0,0,-2,-1,0,1,0,-1, 2,-1,-2,-1,-2,-2,-1,-2,0,-1, 0,1,2,3,1,2,3,1,2,-1, -2,-1,-2,-1,-2,-1,-3,-1,-2,-1, -1,-2,-3,-2,-1,-3,-2,-2,-3,-1, -1,-2,-1,-2,-1,-2,0,-2,-1,-2, -1,0,1,3,-1,0,-1,1,-1,0, -1,-1,-2,0,-1,-2,1,-2,0,1, 0,1,2,1,3,3,2,1,0,2, 1,-1,0,-1,-2,-1,-1,0,-1,-2];
const eZ25 = [-2,-2,-2,-1,-3,-1,0,-1,-1,0, -1,0,-1,-2,-1,0,-1,-2,-1,-2, -2,0,-1,-1,-2,-1,0,-1,0,-1, -1,-2,-1,-2,-1,-3,3,3,-1,2, 0,1,-1,-2,-1,0,-1,-2,-1,-2, -1,-3,-2,-2,0,-1,-2,0,-1,-2, -1,1,-2,-1,2,-1,-1,0,1,0, 4,-2,-1,-2,0,-1,3,-2,0,-1, 1,-1,0,4,1,3,2,2,-1,-2, -2,-1,-2,-1,-2,-3,-1,-2,-1,-3];
const eMatrix = [eZ0,eZ1,eZ2,eZ3,eZ4,eZ5,eZ6,eZ7,eZ8,eZ9,eZ10,eZ11,eZ12,eZ13,eZ14,eZ15,eZ16,eZ17,eZ18,eZ19,eZ20,eZ21,eZ22,eZ23,eZ24,eZ25];
/* dendrogram: [merge height, child, child]; a number child is a row index */
const eTree = [1,[0.816,0,[0.742,1,[0.644,2,3]]],[0.906,[0.742,4,[0.644,5,6]],[0.805,[0.7,[0.554,[0.476,7,[0.42,8,9]],[0.494,10,11]],[0.6,12,[0.562,13,14]]],[0.7,[0.524,[0.442,15,[0.363,16,17]],[0.461,18,[0.42,19,[0.4,20,21]]]],[0.667,22,[0.6,23,[0.494,24,25]]]]]]];
/* annotation runs: [category, end of run in percent of samples] */
const eFirstRuns = [["Control",4.5],["Before",8],["After",9],["Before",12],["After",15],["Before",16],["After",19],["Before",24],["After",26.5],["Control",30.8],["Before",36],["After",40],["Before",45],["After",48],["Before",67.8],["After",78],["Before",84],["After",88],["Before",92],["After",95],["Before",100]];
const eResponseRuns = [["Control",4.5],["Yes",6],["No",8.3],["Yes",12.7],["No",15.7],["Yes",23.4],["No",26.5],["Control",30.8],["Yes",42],["No",53.4],["Yes",58],["No",67.8],["Yes",69.3],["No",78.3],["Yes",88],["No",95.4],["Yes",96.3],["No",100]];
const eDiseaseRuns = [["Control",4.5],["UC",15.7],["CD",26.5],["Control",30.8],["CD",53.4],["UC",78.3],["CD",100]];
const eTissueRuns = [["Colon",26.5],["Ileum",53.4],["Colon",95.7],["Ileum",100]];
const eClusterRuns = [["genecluster1",53.4],["genecluster2",100]];
const eColorbarTicks = [4,3,2,1,0,-1,-2,-3];

/* ---------- Panels F / G data ---------- */
const fCategories = ["Cluster1","Cluster2"];
const fYes = [55.7,35.4];
const fYesLabels = ["56%","35%"];
const fNoLabels = ["44%","65%"];
const gCategories = ["CD","UC"];
const gYes = [53.5,33.4];
const gYesLabels = ["53%","33%"];
const gNoLabels = ["47%","67%"];
const stackTicks = [0,25,50,75,100];

/* ---------- helpers ---------- */
const NS = "http://www.w3.org/2000/svg";
function el(tag, attrs, parent){
  const e = document.createElementNS(NS, tag);
  for (const k in attrs) e.setAttribute(k, attrs[k]);
  parent.appendChild(e);
  return e;
}
function txt(parent, x, y, s, attrs){
  const t = el("text", Object.assign({x:x, y:y}, attrs||{}), parent);
  t.textContent = s;
  return t;
}

/* ---------- Panel A ---------- */
(function(){
  const g = document.getElementById("panelA");
  const y = v => 456 - v * 4.45;
  aTicks.forEach(v => {
    const t = txt(g, 171, y(v) + 7, v + "%", {"font-size":18,"font-weight":"bold","text-anchor":"end",fill:"#111"});
    
    
  });
  const yt = txt(g, 0, 0, "Cell Proportion", {"font-size":22,"font-weight":"bold",fill:"#111","text-anchor":"middle",transform:"translate(108,233) rotate(-90)",textLength:180,lengthAdjust:"spacingAndGlyphs"});
  
  
  function stack(x0, x1, top, nb, mb, cd8, pink, tc, nk, m0, m1, m2, dc, eos, neu, name){
    const grp = el("g", {}, g);
    
    
    const n = nb.length, w = (x1 - x0) / n;
    const c = {nb:"#5a90d0", mb:"#4aaee0", cd8:"#f5a957", pink:"#e05c76", tc:"#2178a8", nk:"#b83c32", m0:"#62b6dc", m1:"#6cc0a3", m2:"#f6b977", dc:"#ee8f90", mast:"#2b6db8", eos:"#3fae80", neu:"#f7941e"};
    for (let i = 0; i < n; i++){
      const a = nb[i], b = a + mb[i], d = b + cd8[i];
      const p = Math.max(pink[i], d), t = p + tc[i], k = t + nk[i];
      const m_0 = Math.max(m0[i], k), m_1 = Math.max(m1[i], m_0), m_2 = Math.max(m2[i], m_1);
      const neuBase = 100 - neu[i];
      const eosBase = neuBase - eos[i];
      const cap = Math.min(m_2, eosBase);
      const dd = Math.min(cap + dc[i], eosBase);
      const segs = [[0,a,c.nb],[a,b,c.mb],[b,d,c.cd8],[d,p,c.pink],[p,t,c.tc],[t,k,c.nk],[k,m_0,c.m0],[m_0,m_1,c.m1],[m_1,cap,c.m2],[cap,dd,c.dc],[dd,eosBase,c.mast],[eosBase,neuBase,c.eos],[neuBase,100,c.neu]];
      segs.forEach(s => {
        if (s[1] <= s[0]) return;
        const r = el("rect", {x:(x0 + i * w).toFixed(2), y:(top(s[1])).toFixed(2), width:(w + 0.2).toFixed(2), height:(top(s[0]) - top(s[1]) + 0.3).toFixed(2), fill:s[2]}, grp);
        
        
      });
    }
  }
  stack(184, 735, y, c1NativeB, c1MemoryB, c1Cd8, c1RestCd4Top, c1TCells, c1RestNK, c1M0Top, c1M1Top, c1M2Top, c1Dendritic, c1Eosinophils, c1Neutrophils, 'genecluster1-stacked-bars');
  stack(770, 1312, y, c2NativeB, c2MemoryB, c2Cd8, c2RestCd4Top, c2TCells, c2RestNK, c2M0Top, c2M1Top, c2M2Top, c2Dendritic, c2Eosinophils, c2Neutrophils, 'genecluster2-stacked-bars');
  const t1 = txt(g, 458, 491, "GeneCluster1", {"font-size":22,"font-weight":"bold","text-anchor":"middle",fill:"#111",textLength:161,lengthAdjust:"spacingAndGlyphs"});
  
  
  const t2 = txt(g, 1042, 491, "GeneCluster2", {"font-size":22,"font-weight":"bold","text-anchor":"middle",fill:"#111",textLength:164,lengthAdjust:"spacingAndGlyphs"});
  
  
  aLegendNames.forEach((nm, i) => {
    const cy = 12 + i * 21.73;
    const s = el("rect", {x:1334, y:cy - 5, width:9.5, height:10, fill:aLegendColors[i]}, g);
    
    
    const l = txt(g, 1348, cy + 7, nm, {"font-size":19.5, fill:"#222"});
    
    
  });
})();

/* ---------- Box plot shared ---------- */
function drawBoxes(g, xs, off, bw, y, stats, outliers, fill, name){
  const grp = el("g", {}, g);
  
  
  stats.forEach((s, i) => {
    const cx = xs(i) + off;
    const wh = el("line", {x1:cx, x2:cx, y1:y(s[0]), y2:y(s[4]), stroke:"#333", "stroke-width":1.5}, grp);
    
    
    const box = el("rect", {x:cx - bw / 2, y:y(s[3]), width:bw, height:Math.max(y(s[1]) - y(s[3]), 1), fill:fill, stroke:"#444", "stroke-width":1.3}, grp);
    
    
    const md = el("line", {x1:cx - bw / 2, x2:cx + bw / 2, y1:y(s[2]), y2:y(s[2]), stroke:"#2c2c2c", "stroke-width":3}, grp);
    
    
    outliers[i].forEach(v => {
      const o = el("ellipse", {cx:cx, cy:y(v), rx:3.5, ry:3.8, fill:"#333"}, grp);
      
      
    });
  });
}
function legendKey(g, x0, x1, top, bottom, wt, wb, fill, label, tx, tb, tl, fs){
  const cx = (x0 + x1) / 2;
  const w = el("line", {x1:cx, x2:cx, y1:wt, y2:wb, stroke:"#333", "stroke-width":2}, g);
  
  
  const r = el("rect", {x:x0, y:top, width:x1 - x0, height:bottom - top, fill:fill, stroke:"#444", "stroke-width":1.5}, g);
  
  
  const m = el("line", {x1:x0, x2:x1, y1:(top + bottom) / 2, y2:(top + bottom) / 2, stroke:"#2c2c2c", "stroke-width":3}, g);
  
  
  const t = txt(g, tx, tb, label, {"font-size":fs, fill:"#222", textLength:tl, lengthAdjust:"spacingAndGlyphs"});
  
  
}

/* ---------- Panel B ---------- */
(function(){
  const g = document.getElementById("panelB");
  const y = v => 858 - v * 664;
  const x = i => 234 + i * 66.95;
  bGrid.forEach(v => {
    const l = el("line", {x1:195, x2:1604, y1:y(v), y2:y(v), stroke:"#efefef", "stroke-width":1.5}, g);
    
    
  });
  const ax = el("path", {d:"M195 524V873H1604", fill:"none", stroke:"#bdbdbd", "stroke-width":1.6}, g);
  
  
  bTicks.forEach(v => {
    const m = el("line", {x1:191, x2:195, y1:y(v), y2:y(v), stroke:"#555", "stroke-width":1}, g);
    
    
    const t = txt(g, 188, y(v) + 7.5 - 3.7 + 14.8 * v, v.toFixed(1), {"font-size":21,"text-anchor":"end",fill:"#222",textLength:31,lengthAdjust:"spacingAndGlyphs"});
    
    
  });
  const yt = txt(g, 0, 0, "Fraction", {"font-size":20,"text-anchor":"middle",fill:"#222",transform:"translate(144,707) rotate(-90)",textLength:76,lengthAdjust:"spacingAndGlyphs"});
  
  
  bCategories.forEach((c, i) => {
    const m = el("line", {x1:x(i), x2:x(i), y1:873, y2:879, stroke:"#555", "stroke-width":1}, g);
    
    
    const t = txt(g, 0, 0, c, {"font-size":22,"font-style":"italic","text-anchor":"end",fill:"#222",transform:"translate(" + (x(i) + 6) + ",888) rotate(-29.8)"});
    
    
    const s = bSignificance[i];
    const ns = s === "ns";
    const offsets = x(i) - 4 + (i === 8 ? -1 : 0);
    const st = txt(g, offsets, ns ? 524 : 532, s, {"font-size":ns ? 22 : 21,"text-anchor":"middle",fill:"#222"});
    
    
  });
  drawBoxes(g, x, -12.5, 23, y, bCluster1Stats, bCluster1Outliers, "#17508f", 'genecluster1-boxes');
  drawBoxes(g, x, 12.5, 23, y, bCluster2Stats, bCluster2Outliers, "#e12126", 'genecluster2-boxes');
  legendKey(g, 1450, 1488, 557, 582, 550, 589, "#17508f", "genecluster1", 1507, 579, 138, 24);
  legendKey(g, 1450, 1488, 603, 629, 596, 636, "#e12126", "genecluster2", 1507, 626, 139, 24);
})();

/* ---------- Panel C ---------- */
(function(){
  const g = document.getElementById("panelC");
  const y = v => 1485.5 - v * 85.5;
  const x = i => 170.5 + i * 94.5;
  cGrid.forEach(v => {
    const l = el("line", {x1:114, x2:969, y1:y(v), y2:y(v), stroke:"#f0f0f0", "stroke-width":1.5}, g);
    
    
  });
  const ax = el("path", {d:"M114 1026V1508H969", fill:"none", stroke:"#8c8c8c", "stroke-width":1.4}, g);
  
  
  cTicks.forEach(v => {
    const t = txt(g, 105, y(v) + 8, v, {"font-size":21,"text-anchor":"end",fill:"#222"});
    
    
  });
  const yt = txt(g, 0, 0, "Expression（10⁴）", {"font-size":19,"text-anchor":"middle",fill:"#222",transform:"translate(86,1176) rotate(-90)",textLength:155,lengthAdjust:"spacingAndGlyphs"});
  
  
  cCategories.forEach((c, i) => {
    const m = el("line", {x1:x(i), x2:x(i), y1:1508, y2:1513, stroke:"#777", "stroke-width":1}, g);
    
    
    const nudge = c === "TNFRSF9" ? 15 : (c === "HAVCR2" ? 6 : 0);
    const t = txt(g, x(i) + nudge, 1534, c, {"font-size":20,"text-anchor":"middle",fill:"#222"});
    
    
  });
  drawBoxes(g, x, -17.6, 33, y, cCluster1Stats, cCluster1Outliers, "#0a4a9a", 'genecluster1-boxes');
  drawBoxes(g, x, 17.6, 33, y, cCluster2Stats, cCluster2Outliers, "#f00000", 'genecluster2-boxes');
  legendKey(g, 739, 779, 1107, 1134, 1100, 1141, "#0a4a9a", "genecluster1", 800, 1129, 148, 25);
  legendKey(g, 739, 779, 1157, 1184, 1149, 1192, "#f00000", "genecluster2", 800, 1179, 149, 25);
})();

/* ---------- Panel D ---------- */
(function(){
  const g = document.getElementById("panelD");
  const x = v => 1215 + v * 365;
  const y = v => 1353 - v * 326;
  const ax = el("path", {d:"M1201 1018V1366H1586", fill:"none", stroke:"#777", "stroke-width":1.2}, g);
  
  
  dTicks.forEach(v => {
    const m1 = el("line", {x1:1194, x2:1201, y1:y(v), y2:y(v), stroke:"#777", "stroke-width":1}, g);
    
    
    const m2 = el("line", {x1:x(v), x2:x(v), y1:1366, y2:1373, stroke:"#777", "stroke-width":1}, g);
    
    
    const t1 = txt(g, 1182, y(v) + 7, v.toFixed(1), {"font-size":21,"font-family":"'Liberation Serif',serif","text-anchor":"end",fill:"#444"});
    
    
    const t2 = txt(g, x(v) + 2, 1397, v.toFixed(1), {"font-size":21,"font-family":"'Liberation Serif',serif","text-anchor":"middle",fill:"#444"});
    
    
  });
  const yt = txt(g, 0, 0, "CDF", {"font-size":22,"text-anchor":"middle",fill:"#222",transform:"translate(1144,1180) rotate(-90)",textLength:47,lengthAdjust:"spacingAndGlyphs"});
  
  
  const xt = txt(g, 1407, 1419, "Consensus index", {"font-size":22,"text-anchor":"middle",fill:"#222",textLength:184,lengthAdjust:"spacingAndGlyphs"});
  
  
  const series = [dK2,dK3,dK4,dK5,dK6,dK7,dK8,dK9,dK10];
  const colors = ["#f01010","#f5a623","#b5e61d","#22dd22","#20e6b0","#20a2f0","#1010e0","#a010f0","#f010a0"];
  series.forEach((s, k) => {
    const d = s.map((v, i) => x(dConsensusIndex[i]).toFixed(1) + "," + y(v).toFixed(1)).join(" ");
    const p = el("polyline", {points:d, fill:"none", stroke:colors[k], "stroke-width":1.7}, g);
    
    
    const cy = 1203 + k * 13.67;
    const sw = el("rect", {x:1518, y:cy - 3.5, width:9, height:7, fill:colors[k], stroke:"#333", "stroke-width":0.5}, g);
    
    
    const t = txt(g, 1536, cy + 4, dLabels[k], {"font-size":10.5, fill:"#333"});
    
    
  });
})();

/* ---------- Panel E ---------- */
(function(){
  const g = document.getElementById("panelE");
  const left = 138.5, right = 636, top = 1718, bottom = 2374;
  const stops = [[-3,[46,85,170]],[-2,[95,116,188]],[-1,[154,160,210]],[0,[220,222,238]],[0.5,[248,244,248]],[1,[251,230,230]],[2,[248,168,168]],[3,[242,106,106]],[4,[239,34,34]]];
  function color(v){
    for (let i = 1; i < stops.length; i++){
      if (v <= stops[i][0]){
        const a = stops[i - 1], b = stops[i], t = Math.max(0, (v - a[0]) / (b[0] - a[0]));
        return "rgb(" + a[1].map((c, j) => Math.round(c + (b[1][j] - c) * t)).join(",") + ")";
      }
    }
    return "rgb(239,34,34)";
  }
  const shade = v => v < 0 ? v * (0.45 + 0.15 * Math.abs(v)) : v;
  const rowH = (bottom - top) / eMatrix.length;
  const rowY = r => top + rowH * (r + 0.5);
  const colW = (right - left) / eMatrix[0].length;
  const hm = el("g", {}, g);
  
  
  eMatrix.forEach((row, r) => {
    row.forEach((v, c) => {
      const cell = el("rect", {x:(left + c * colW).toFixed(2), y:(top + r * rowH).toFixed(2), width:(colW + 0.2).toFixed(2), height:(rowH + 0.2).toFixed(2), fill:color(shade(v))}, hm);
      
      
    });
    const t = txt(g, 644, rowY(r) + 7.5, eGenes[r], {"font-size":21.5, fill:"#222"});
    
    
  });
  /* dendrogram */
  const tx = h => 138.5 - h * 119.2;
  const tree = el("g", {fill:"none", stroke:"#222", "stroke-width":1.4}, g);
  
  
  function walk(n){
    if (typeof n === "number") return {x:tx(0), y:rowY(n)};
    const a = walk(n[1]), b = walk(n[2]), X = tx(n[0]);
    const p = el("path", {d:"M" + a.x.toFixed(1) + " " + a.y.toFixed(1) + "H" + X.toFixed(1) + "V" + b.y.toFixed(1) + "H" + b.x.toFixed(1)}, tree);
    
    
    return {x:X, y:(a.y + b.y) / 2};
  }
  walk(eTree);
  /* annotation bars */
  const annColors = {
    First:{After:"#3cbfad",Before:"#3fb98c",Control:"#f89a45"},
    Resp:{Control:"#bd82bb",No:"#5ebd50",Yes:"#c9a832"},
    Dis:{CD:"#36c1da",Control:"#e67cb4",UC:"#929fd0"},
    Tis:{Colon:"#9fb93b",Ileum:"#bb8fc0"},
    Gene:{genecluster1:"#f4858a",genecluster2:"#1ebfee"}
  };
  const ann = [
    ["First_infliximab_treatment", eFirstRuns, annColors.First, 1579, 1602, 284, 1600],
    ["Response_to_infliximab", eResponseRuns, annColors.Resp, 1606, 1629, 261, 1625],
    ["Disease", eDiseaseRuns, annColors.Dis, 1634, 1657, 86, 1652],
    ["Tissue", eTissueRuns, annColors.Tis, 1661, 1684, 72, 1679],
    ["Genecluster", eClusterRuns, annColors.Gene, 1689, 1711, 131, 1706]
  ];
  ann.forEach(a => {
    let start = 0;
    a[1].forEach(run => {
      const x0 = left + start / 100 * (right - left), x1 = left + run[1] / 100 * (right - left);
      const r = el("rect", {x:x0.toFixed(2), y:a[3], width:(x1 - x0 + 0.2).toFixed(2), height:a[4] - a[3], fill:a[2][run[0]]}, g);
      
      
      start = run[1];
    });
    const t = txt(g, 644, a[6], a[0], {"font-size":20,"font-weight":"bold",fill:"#111",textLength:a[5],lengthAdjust:"spacingAndGlyphs"});
    
    
  });
  /* colour bar */
  const cb = v => 1678 + (4 - v) * 47.9;
  for (let i = 0; i < 24; i++){
    const v = 4.1 - i * (7.15 / 24);
    const r = el("rect", {x:857.5, y:(1673 + i * 14.2).toFixed(1), width:22.5, height:14.6, fill:color(v - 0.15)}, g);
    
    
  }
  eColorbarTicks.forEach(v => {
    const t = txt(g, 890, cb(v) + 7, String(v).replace("-", "−"), {"font-size":20, fill:"#222"});
    
    
  });
  /* category legends */
  const groups = [
    ["First_infliximab_treatment",1658,1667,[["After","#3cbfad"],["Before","#3fb98c"],["Control","#f89a45"]],284],
    ["Response_to_infliximab",1806,1814,[["Control","#bd82bb"],["No","#5ebd50"],["Yes","#c9a832"]],261],
    ["Disease",1953,1961,[["CD","#36c1da"],["Control","#e67cb4"],["UC","#929fd0"]],85],
    ["Tissue",2100,2108,[["Colon","#9fb93b"],["Ileum","#bb8fc0"]],71],
    ["Genecluster",2215,2222,[["genecluster1","#f4858a"],["genecluster2","#1ebfee"]],131]
  ];
  groups.forEach(gr => {
    const tt = txt(g, 933, gr[1], gr[0], {"font-size":20,"font-weight":"bold",fill:"#111",textLength:gr[4],lengthAdjust:"spacingAndGlyphs"});
    
    
    gr[3].forEach((it, i) => {
      const yy = gr[2] + i * 32.7;
      const s = el("rect", {x:933, y:yy, width:32.5, height:33, fill:it[1]}, g);
      
      
      const l = txt(g, 972, yy + 23, it[0], {"font-size":20, fill:"#222"});
      
      
    });
  });
})();

/* ---------- Panels F and G ---------- */
function stacked(id, cfg){
  const g = document.getElementById(id);
  const y = v => cfg.bottom - v / 100 * (cfg.bottom - cfg.top);
  const ax = el("path", {d:"M" + cfg.left + " " + cfg.top + "V" + cfg.bottom + "H" + cfg.right, fill:"none", stroke:"#111", "stroke-width":1.6}, g);
  
  
  stackTicks.forEach(v => {
    const t = txt(g, cfg.labelX, y(v) + 7, v + "%", {"font-size":21,"font-weight":"bold","text-anchor":"end",fill:"#111"});
    
    
  });
  cfg.cats.forEach((c, i) => {
    const x0 = cfg.barX[i], cx = x0 + 32;
    const no = el("rect", {x:x0, y:cfg.top, width:64, height:y(cfg.yes[i]) - cfg.top, fill:"#ff0000"}, g);
    
    
    const ye = el("rect", {x:x0, y:y(cfg.yes[i]), width:64, height:cfg.bottom - y(cfg.yes[i]), fill:"#00b050"}, g);
    
    
    const nl = txt(g, cx, cfg.noY[i] + 8, cfg.noLabels[i], {"font-size":21.5,"font-weight":"bold","text-anchor":"middle",fill:"#111"});
    
    
    const yl = txt(g, cx, cfg.yesY[i] + 7, cfg.yesLabels[i], {"font-size":cfg.yesFont,"font-weight":"bold","text-anchor":"middle",fill:"#111"});
    
    
    const cl = txt(g, cx, cfg.catY, c, {"font-size":20,"font-weight":"bold","text-anchor":"middle",fill:"#111"});
    
    
  });
  const s1 = el("rect", {x:cfg.legX, y:cfg.legY, width:15, height:15, fill:"#00b050"}, g);
  
  
  const l1 = txt(g, cfg.legX + 23, cfg.legY + 15, "YES", {"font-size":21,"font-weight":"bold",fill:"#111"});
  
  
  const s2 = el("rect", {x:cfg.legX + 73, y:cfg.legY, width:15, height:15, fill:"#ff0000"}, g);
  
  
  const l2 = txt(g, cfg.legX + 96, cfg.legY + 15, "NO", {"font-size":21,"font-weight":"bold",fill:"#111"});
  
  
  const xt = txt(g, cfg.titleX, cfg.titleY, "Response to infliximab", {"font-size":20,"font-weight":"bold","text-anchor":"middle",fill:"#111",textLength:240,lengthAdjust:"spacingAndGlyphs"});
  
  
}
stacked("panelF", {left:1343,right:1663,top:1472,bottom:1881,labelX:1328,cats:fCategories,yes:fYes,yesLabels:fYesLabels,noLabels:fNoLabels,barX:[1392,1552],noY:[1563,1604],yesY:[1768,1809],yesFont:18.5,catY:1917,legX:1350,legY:1442,titleX:1498,titleY:1954});
stacked("panelG", {left:1350,right:1668,top:2017,bottom:2424,labelX:1334,cats:gCategories,yes:gYes,yesLabels:gYesLabels,noLabels:gNoLabels,barX:[1397,1557],noY:[2112,2152],yesY:[2315,2356],yesFont:21.5,catY:2459,legX:1360,legY:1987,titleX:1509.5,titleY:2493});
</script>
</body>
</html>
